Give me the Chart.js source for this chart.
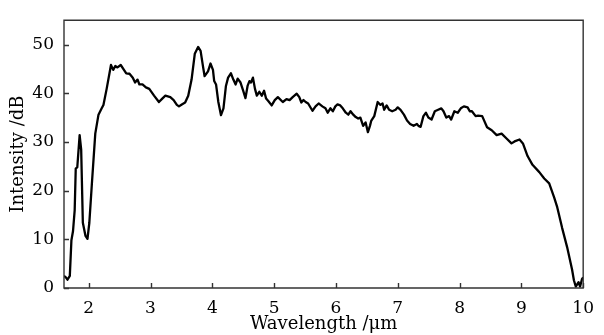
<!DOCTYPE html>
<html><head><meta charset="utf-8">
<script src="https://cdn.jsdelivr.net/npm/chart.js@4/dist/chart.umd.min.js"></script>
<style>html,body{margin:0;padding:0;background:#fff}#w{width:604px;height:335px}</style>
</head><body><div id="w"><canvas id="c" width="604" height="335"></canvas></div>
<script>
const wavelength = [1.60,1.63,1.656,1.694,1.72,1.746,1.773,1.79,1.815,1.853,1.878,1.905,1.948,1.98,2.01,2.05,2.106,2.158,2.21,2.238,2.29,2.36,2.396,2.43,2.465,2.518,2.57,2.607,2.66,2.713,2.75,2.79,2.82,2.87,2.925,2.98,3.057,3.136,3.19,3.24,3.32,3.374,3.426,3.46,3.506,3.56,3.61,3.664,3.716,3.77,3.81,3.85,3.875,3.93,3.97,4.01,4.03,4.06,4.097,4.14,4.18,4.22,4.255,4.3,4.34,4.377,4.41,4.456,4.5,4.536,4.57,4.6,4.626,4.657,4.69,4.72,4.76,4.8,4.837,4.87,4.905,4.96,5.01,5.06,5.14,5.2,5.25,5.3,5.365,5.407,5.44,5.475,5.51,5.55,5.62,5.67,5.72,5.78,5.83,5.867,5.91,5.95,5.99,6.025,6.07,6.11,6.16,6.2,6.236,6.28,6.32,6.36,6.395,6.44,6.48,6.517,6.55,6.57,6.62,6.675,6.72,6.754,6.78,6.82,6.86,6.91,6.965,7.0,7.045,7.1,7.15,7.2,7.256,7.31,7.335,7.37,7.415,7.456,7.495,7.547,7.6,7.653,7.705,7.74,7.785,7.83,7.864,7.916,7.97,8.02,8.07,8.13,8.165,8.2,8.26,8.30,8.366,8.445,8.52,8.6,8.68,8.76,8.84,8.89,8.97,9.025,9.1,9.18,9.29,9.37,9.45,9.53,9.58,9.66,9.74,9.82,9.85,9.88,9.925,9.95,9.98,10.0];
const intensity = [2.5,2.2,1.7,2.5,9.8,11.7,16,24.5,24.8,31.4,28.4,13.4,10.7,10.1,13.4,21.2,31.7,35.6,36.9,37.6,40.9,45.8,44.8,45.6,45.3,45.8,44.8,44.1,44.0,43.2,42.2,42.8,41.8,41.8,41.2,40.9,39.5,38.2,38.9,39.5,39.2,38.6,37.6,37.3,37.7,38.1,39.5,42.8,48.1,49.5,48.7,45.4,43.5,44.5,46.1,44.8,42.5,41.8,38.2,35.5,36.9,41.5,43.2,44.1,42.8,41.8,43.0,42.2,40.5,39.0,41.5,42.5,42.2,43.2,40.9,39.5,40.3,39.5,40.5,38.9,38.4,37.5,38.6,39.2,38.2,38.8,38.6,39.2,39.9,39.2,38.1,38.6,38.2,37.9,36.4,37.3,37.9,37.3,36.9,36.0,36.9,36.3,37.3,37.7,37.5,36.9,36.0,35.6,36.3,35.6,35.1,34.8,35.0,33.3,34.0,32.0,33.3,34.3,35.3,38.2,37.6,37.9,36.6,37.5,36.6,36.3,36.6,37.1,36.6,35.6,34.4,33.7,33.3,33.7,33.3,33.1,35.3,36.0,35.0,34.6,36.3,36.6,36.9,36.3,35.0,35.3,34.6,36.3,36.0,36.9,37.3,37.1,36.3,36.3,35.3,35.4,35.3,33.0,32.4,31.4,31.7,30.7,29.7,30.1,30.5,29.7,27.1,25.3,23.8,22.5,21.5,18.6,16.6,12.3,8.4,3.8,1.6,0.3,1.2,0.3,1.8,2.2];
const xTicks = [2,3,4,5,6,7,8,9,10];
const yTicks = [0,10,20,30,40,50];
const xTitle = 'Wavelength /\u03bcm';
const yTitle = 'Intensity /dB';

const TICKFONT = {family:'"DejaVu Serif", serif', size:17};
const TITLEFONT = {family:'"DejaVu Serif", serif', size:18};
const points = wavelength.map((x,i)=>({x:x, y:intensity[i]}));

const framePlugin = {
  id:'frame',
  afterDraw(chart){
    const {ctx, chartArea:a, scales} = chart;
    ctx.save();
    ctx.strokeStyle = '#333';
    ctx.lineWidth = 1.4;
    ctx.beginPath();
    ctx.rect(a.left, a.top, a.right-a.left, a.bottom-a.top);
    ctx.stroke();
    ctx.beginPath();
    scales.x.ticks.forEach(t=>{
      const px = Math.round(scales.x.getPixelForValue(t.value))+0.5;
      ctx.moveTo(px, a.bottom); ctx.lineTo(px, a.bottom-5);
    });
    scales.y.ticks.forEach(t=>{
      const py = Math.round(scales.y.getPixelForValue(t.value))+0.5;
      ctx.moveTo(a.left, py); ctx.lineTo(a.left+5, py);
    });
    ctx.stroke();
    ctx.restore();
  }
};

new Chart(document.getElementById('c'), {
  type:'line',
  data:{datasets:[{data:points, borderColor:'#000', borderWidth:2.3, pointRadius:0, tension:0, fill:false, borderJoinStyle:'round'}]},
  options:{
    responsive:false, animation:false,
    layout:{padding:{top:8,right:9,left:0,bottom:0}},
    plugins:{legend:{display:false}, tooltip:{enabled:false}},
    scales:{
      x:{type:'linear', min:1.6, max:10,
        afterBuildTicks(s){ s.ticks = xTicks.map(v=>({value:v})); },
        afterFit(s){ s.height = 47; },
        grid:{display:false, drawTicks:false}, border:{display:false},
        ticks:{color:'#000', font:TICKFONT, padding:10, maxRotation:0, autoSkip:false},
        title:{display:true, text:xTitle, color:'#000', font:TITLEFONT, padding:{top:0,bottom:0}}
      },
      y:{type:'linear', min:0, max:55,
        afterBuildTicks(s){ s.ticks = yTicks.map(v=>({value:v})); },
        afterFit(s){ s.width = 64; },
        grid:{display:false, drawTicks:false}, border:{display:false},
        ticks:{color:'#000', font:TICKFONT, padding:10},
        title:{display:true, text:yTitle, color:'#000', font:TITLEFONT, padding:{top:8,bottom:0}}
      }
    }
  },
  plugins:[framePlugin]
});
</script></body></html>
